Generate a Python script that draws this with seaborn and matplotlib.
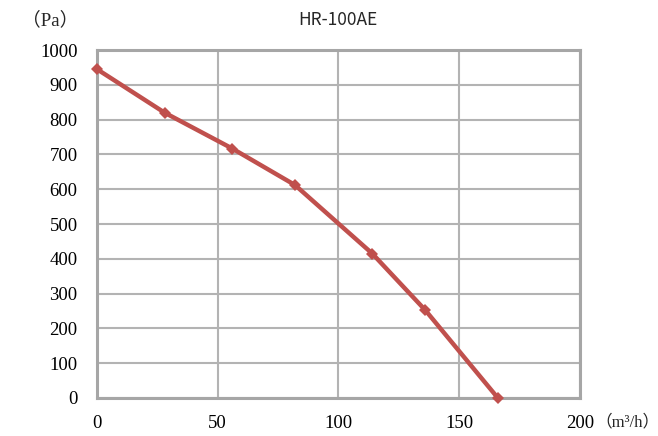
import matplotlib
matplotlib.use("Agg")
import matplotlib.pyplot as plt
import seaborn as sns
import pandas as pd

airflow = [0, 28, 56, 82, 114, 136, 166]
pressure = [945, 820, 717, 612, 415, 252, 0]
x_ticks = [0, 50, 100, 150, 200]
y_ticks = [0, 100, 200, 300, 400, 500, 600, 700, 800, 900, 1000]

df = pd.DataFrame({"airflow": airflow, "pressure": pressure})

sns.set_style("white")
plt.rcParams["font.family"] = ["Liberation Serif", "Noto Sans CJK SC"]

fig = plt.figure(figsize=(6.58, 4.36), dpi=100)
ax = fig.add_axes([0.1474, 0.0872, 0.734, 0.798])

sns.lineplot(data=df, x="airflow", y="pressure", ax=ax, color="#c0504d",
             linewidth=3.2, marker="D", markersize=6.5, markeredgewidth=0,
             clip_on=False, zorder=5)

grid_c = "#b3b3b3"
ax.set_xlim(0, 200)
ax.set_ylim(0, 1000)
ax.set_xticks(x_ticks)
ax.set_yticks(y_ticks)
ax.grid(True, color=grid_c, linewidth=1.5)
for s in ax.spines.values():
    s.set_color("#a6a6a6")
    s.set_linewidth(2.2)
ax.tick_params(length=0, labelsize=13.5, colors="black")
ax.tick_params(axis="x", pad=12)
ax.tick_params(axis="y", pad=14)
ax.set_xlabel("")
ax.set_ylabel("")

ax.annotate("（m³/h）", xy=(200, 0), xycoords=("data", "axes fraction"),
            xytext=(11, -12), textcoords="offset points", ha="left", va="top",
            fontsize=12)
fig.text(0.119, 0.953, "（Pa）", ha="right", va="center", fontsize=13.5)
fig.text(0.514, 0.953, "HR-100AE", ha="center", va="center", fontsize=12.5,
         family=["Noto Sans CJK SC", "DejaVu Sans"])

fig.savefig("out.png", dpi=100)
